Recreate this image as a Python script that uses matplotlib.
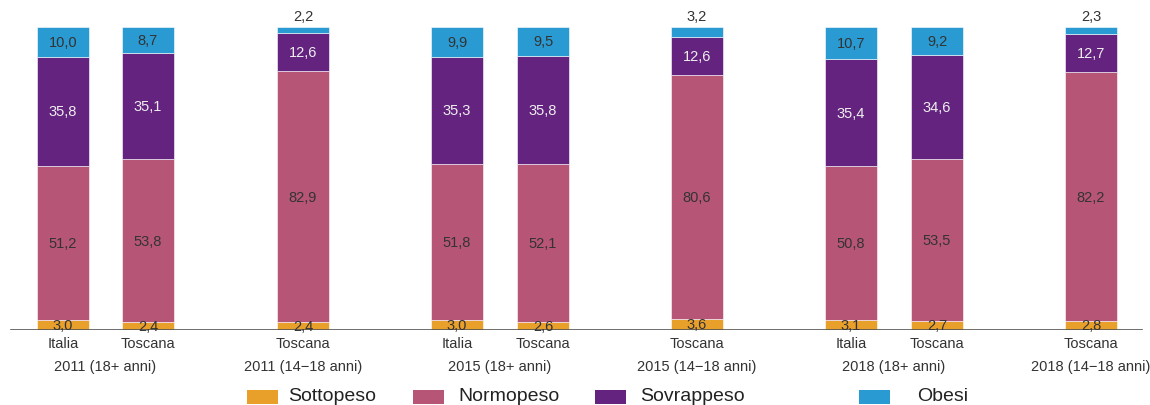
import matplotlib
matplotlib.use("Agg")
import matplotlib.pyplot as plt
from matplotlib.patches import Rectangle

plt.rcParams['font.family'] = ['Liberation Sans', 'DejaVu Sans']

# dati (%)
groups = ['2011 (18+ anni)', '2011 (14\u221218 anni)', '2015 (18+ anni)',
          '2015 (14\u221218 anni)', '2018 (18+ anni)', '2018 (14\u221218 anni)']
bar_labels = ['Italia', 'Toscana', 'Toscana', 'Italia', 'Toscana', 'Toscana',
              'Italia', 'Toscana', 'Toscana']
bar_group = [0, 0, 1, 2, 2, 3, 4, 4, 5]

categorie = ['Sottopeso', 'Normopeso', 'Sovrappeso', 'Obesi']
sottopeso = [3.0, 2.4, 2.4, 3.0, 2.6, 3.6, 3.1, 2.7, 2.8]
normopeso = [51.2, 53.8, 82.9, 51.8, 52.1, 80.6, 50.8, 53.5, 82.2]
sovrappeso = [35.8, 35.1, 12.6, 35.3, 35.8, 12.6, 35.4, 34.6, 12.7]
obesi = [10.0, 8.7, 2.2, 9.9, 9.5, 3.2, 10.7, 9.2, 2.3]

colori = ['#E8A02B', '#B75577', '#652380', '#2A9BD2']
col_testo = ['#333333', '#333333', '#EEEEEE', '#333333']

# posizioni delle barre (layout, in pixel)
xpos = [63, 148, 303, 457, 543, 697, 851, 937, 1091]
larg = 52
W, H = 1150, 406

fig = plt.figure(figsize=(11.5, 4.06), dpi=100)
ax = fig.add_axes([0, (H - 330.5) / H, 1, (330.5 - 28) / H])
ax.set_xlim(0, W)
ax.set_ylim(0, 100)

serie = [sottopeso, normopeso, sovrappeso, obesi]
base = [0] * len(xpos)
for k, vals in enumerate(serie):
    ax.bar(xpos, vals, width=larg, bottom=base, color=colori[k],
           edgecolor='white', linewidth=0.4, align='center')
    for i, v in enumerate(vals):
        testo = ('%.1f' % v).replace('.', ',')
        if k == 3 and v < 5:
            ax.text(xpos[i], base[i] + v + 1.2, testo, ha='center', va='bottom',
                    fontsize=10.5, color='#333333')
        else:
            ax.text(xpos[i], base[i] + v / 2, testo, ha='center', va='center',
                    fontsize=10.5, color=col_testo[k], zorder=6)
    base = [b + v for b, v in zip(base, vals)]

for s in ax.spines.values():
    s.set_visible(False)
ax.axhline(0, xmin=11 / W, xmax=1142 / W, color='#555555', linewidth=1.2, zorder=5)
ax.set_yticks([])
ax.set_xticks(xpos)
ax.set_xticklabels(bar_labels, fontsize=10.5, color='#333333')
ax.tick_params(axis='x', length=0, pad=5)

# etichette dei gruppi
for g, nome in enumerate(groups):
    xs = [xpos[i] for i in range(len(xpos)) if bar_group[i] == g]
    xc = sum(xs) / len(xs)
    ax.text(xc, -12.2, nome, ha='center', va='center', fontsize=10.5,
            color='#333333', clip_on=False)

# legenda
leg_x = [247, 413, 595, 859]
leg_tx = [288, 458, 640, 917]
for c, nome, lx, tx in zip(colori, categorie, leg_x, leg_tx):
    fig.patches.append(Rectangle((lx / W, 1 - 405 / H), 31 / W, 14 / H,
                                 transform=fig.transFigure, facecolor=c,
                                 edgecolor='none'))
    fig.text(tx / W, 1 - 397 / H, nome, ha='left', va='center',
             fontsize=14, color='#222222')

fig.savefig('out.png', dpi=100)
